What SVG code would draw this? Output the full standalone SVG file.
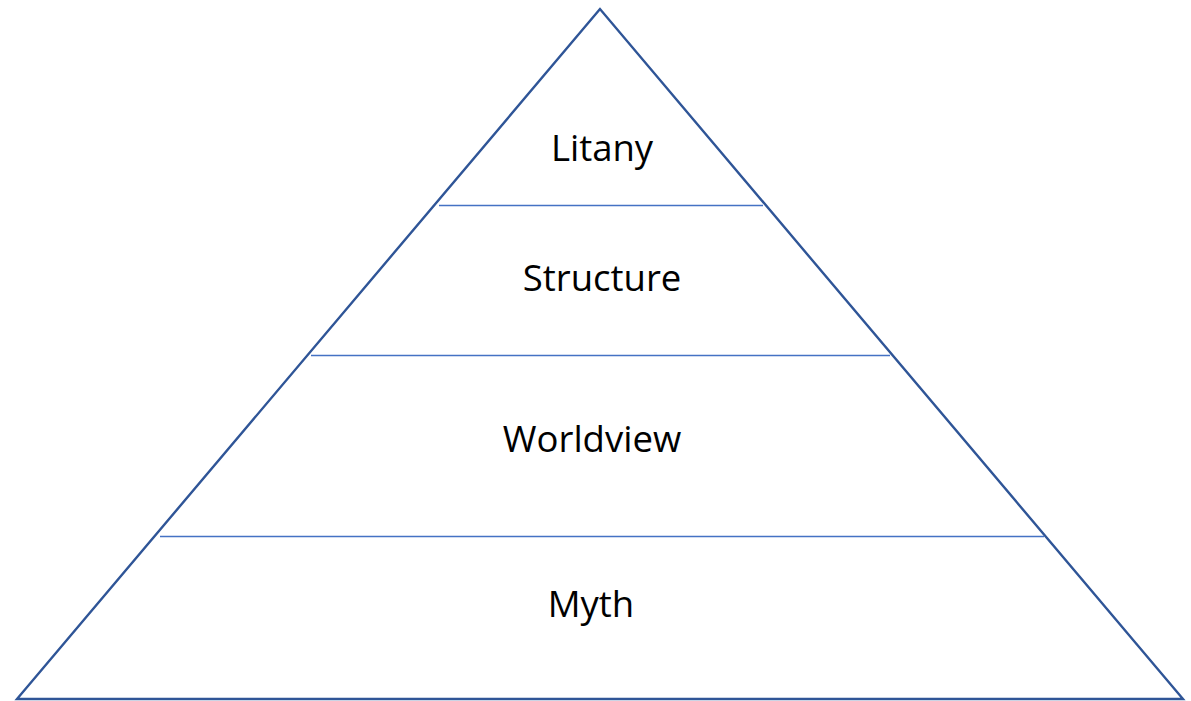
<svg xmlns="http://www.w3.org/2000/svg" width="1191" height="701" viewBox="0 0 1191 701">
<style>
.tri{fill:#fff;stroke:#2F5597;stroke-width:2.4;stroke-linejoin:miter}
.div{stroke:#4472C4;stroke-width:1.3}
.lbl{font-family:"Open Sans","Noto Sans",sans-serif;font-size:36.5px;fill:#000;text-anchor:middle}
</style>
<rect width="1191" height="701" fill="#fff"/>
<g id="pyramid">
<polygon class="tri" points="600,9 17,699 1183,699"/>
</g>
<g id="connectors">
<line class="div" x1="439" y1="205.5" x2="763" y2="205.5"/>
<line class="div" x1="311" y1="355.5" x2="890" y2="355.5"/>
<line class="div" x1="160" y1="536.5" x2="1044" y2="536.5"/>
</g>
<g id="litany"><text class="lbl" x="602" y="161">Litany</text></g>
<g id="structure"><text class="lbl" x="602" y="291">Structure</text></g>
<g id="worldview"><text class="lbl" x="592" y="452">Worldview</text></g>
<g id="myth"><text class="lbl" x="591" y="617">Myth</text></g>
</svg>
